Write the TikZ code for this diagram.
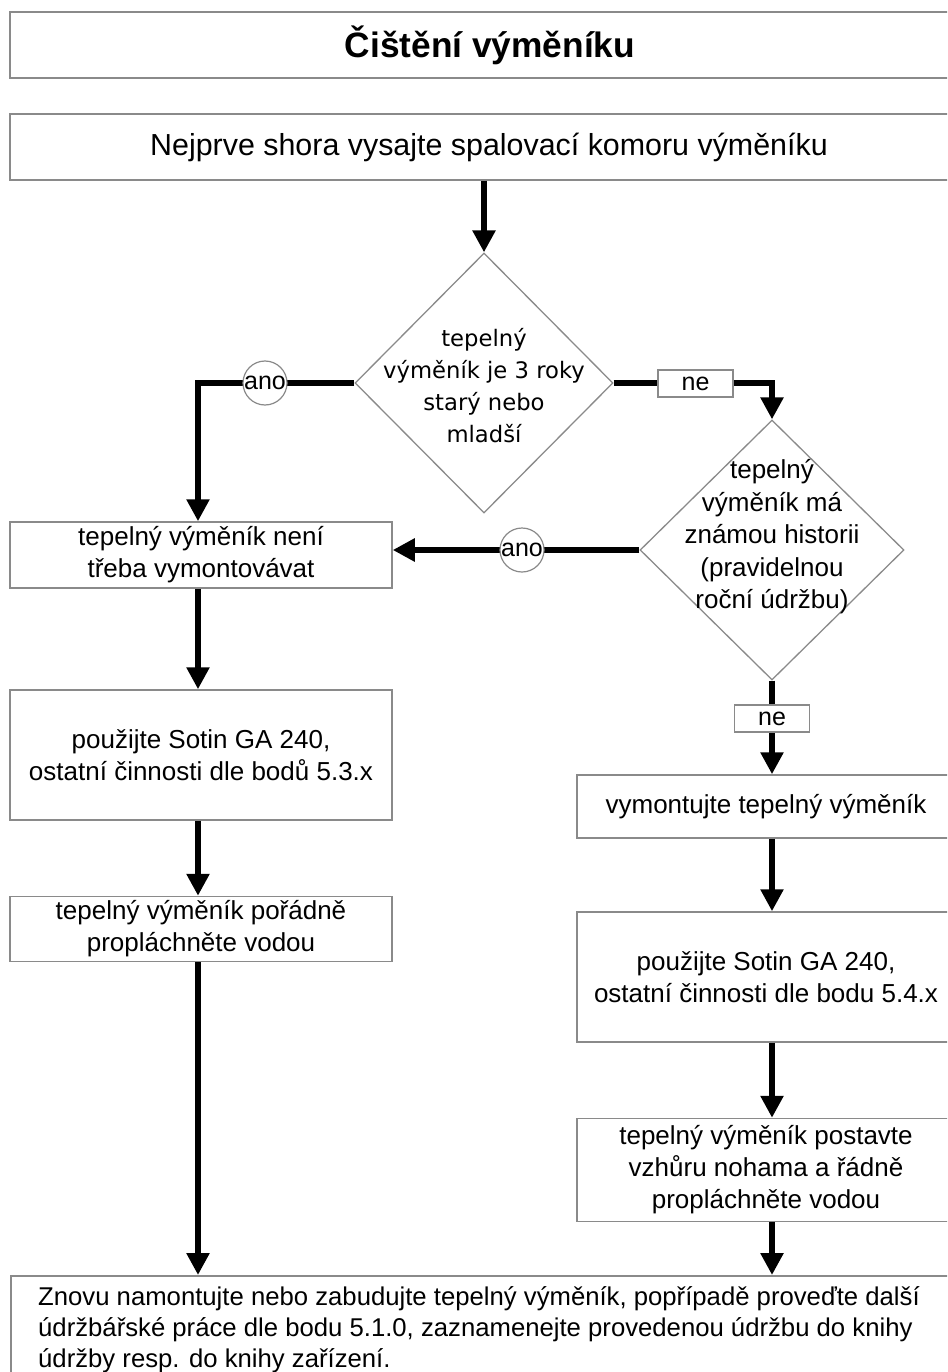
\documentclass[tikz,border=0pt]{standalone}
\usepackage{fontspec}
\setmainfont{Liberation Sans}
\newfontfamily\dvfont{DejaVu Sans}
\usetikzlibrary{arrows.meta,shapes.geometric}
\definecolor{boxgray}{HTML}{8A8A8A}
\begin{document}
\begin{tikzpicture}[x=1pt,y=-1pt,
  box/.style={draw=boxgray,line width=1.5pt,fill=white,inner sep=0pt,align=center,font={\fontsize{26}{32}\selectfont}},
  flow/.style={line width=6pt,draw=black,-{Triangle[length=22pt,width=22pt]}},
  decision/.style={diamond,draw=boxgray,line width=1.3pt,fill=white,inner sep=0pt,aspect=1},
  dtext/.style={align=center,inner sep=0pt},
  anolbl/.style={circle,draw=boxgray,line width=1.2pt,fill=white,minimum size=44pt,inner sep=0pt,font={\fontsize{25}{25}\selectfont}},
  nelbl/.style={rectangle,draw=boxgray,line width=1.2pt,fill=white,minimum width=75pt,minimum height=27pt,inner sep=0pt,font={\fontsize{25}{25}\selectfont}}
]
\useasboundingbox (0,0) rectangle (947,1372);
\clip (0,0) rectangle (947,1372);
\fill[white] (0,0) rectangle (947,1372);

% boxes
\node[box, minimum width=960pt, minimum height=66pt, font={\fontsize{35.3}{40}\selectfont\bfseries}] (title) at (490,45) {Čištění výměníku};
\node[box, minimum width=958pt, minimum height=66pt, font={\fontsize{30.4}{32}\selectfont}] (step) at (489,147) {Nejprve shora vysajte spalovací komoru výměníku};

\node[decision, minimum width=258pt, minimum height=260pt] (d1) at (484,383) {};
\node[dtext, font={\dvfont\fontsize{22.7}{32}\selectfont}] (d1t) at (484,386) {tepelný\\výměník je 3 roky\\starý nebo\\mladší};

\node[decision, minimum width=264pt, minimum height=260pt] (d2) at (772,550) {};
\node[dtext, font={\fontsize{26}{32.5}\selectfont}] (d2t) at (772,537) {tepelný\\výměník má\\známou historii\\(pravidelnou\\roční údržbu)};

\node[box, minimum width=382pt, minimum height=66pt] (b1) at (201,555) {tepelný výměník není\\třeba vymontovávat};
\node[box, minimum width=382pt, minimum height=130pt] (b2) at (201,755) {použijte Sotin GA 240,\\ostatní činnosti dle bodů 5.3.x};
\node[box, minimum width=382pt, minimum height=65pt] (b3) at (201,929) {tepelný výměník pořádně\\propláchněte vodou};

\node[box, minimum width=378pt, minimum height=63pt] (r1) at (766,806.5) {vymontujte tepelný výměník};
\node[box, minimum width=378pt, minimum height=130pt] (r2) at (766,977) {použijte Sotin GA 240,\\ostatní činnosti dle bodu 5.4.x};
\node[box, minimum width=378pt, minimum height=103pt] (r3) at (766,1170) {tepelný výměník postavte\\vzhůru nohama a řádně\\propláchněte vodou};

\node[box, minimum width=970pt, minimum height=125pt, anchor=north west] (fin) at (10,1275) {};
\node[anchor=north west, inner sep=0pt, align=left, font={\fontsize{25.7}{31}\selectfont}] (fint) at (38,1286) {Znovu namontujte nebo zabudujte tepelný výměník, popřípadě proveďte další\\údržbářské práce dle bodu 5.1.0, zaznamenejte provedenou údržbu do knihy\\údržby resp. do knihy zařízení.};

% connectors
\draw[flow] (d1.north |- step.south) -- (d1.north);
\draw[flow] (d1.west) -| ([xshift=-3pt]b1.north);
\node[anolbl] (ano1) at (265,383) {ano};
\draw[flow] (d1.east) -| (d2.north);
\node[nelbl] (ne1) at (695.5,383.5) {ne};
\draw[flow] (d2.west) -- (d2.west -| b1.east);
\node[anolbl] (ano2) at (522,550) {ano};
\draw[flow] ([xshift=-3pt]b1.south) -- ([xshift=-3pt]b2.north);
\draw[flow] ([xshift=-3pt]b2.south) -- ([xshift=-3pt]b3.north);
\draw[flow] ([xshift=-3pt]b3.south) -- ([xshift=-3pt]b3.south |- fin.north);
\draw[flow] (d2.south) -- (d2.south |- r1.north);
\node[nelbl] (ne2) at (772,718.5) {ne};
\draw[flow] (d2.south |- r1.south) -- (d2.south |- r2.north);
\draw[flow] (d2.south |- r2.south) -- (d2.south |- r3.north);
\draw[flow] (d2.south |- r3.south) -- (d2.south |- fin.north);
\end{tikzpicture}
\end{document}
